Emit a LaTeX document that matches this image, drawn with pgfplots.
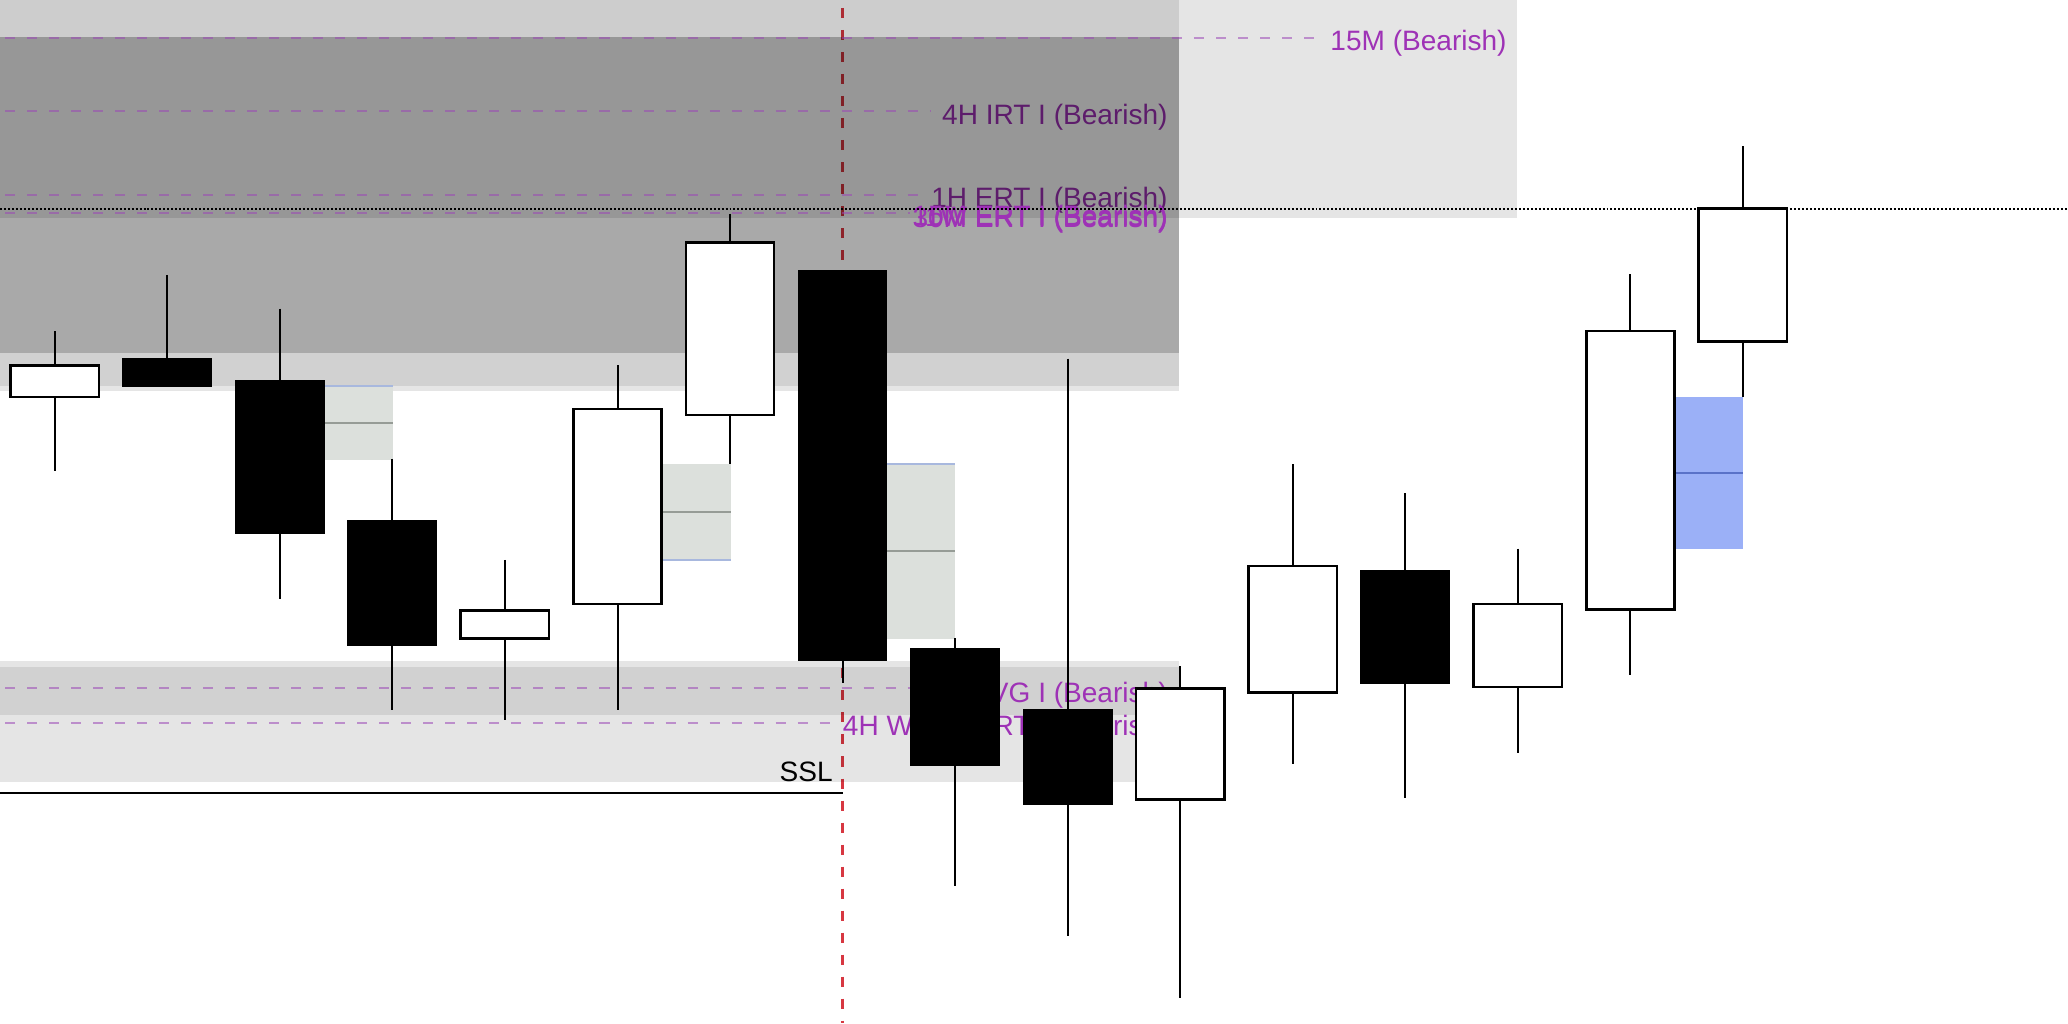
\documentclass[border=0pt]{standalone}
\usepackage{fontspec}
\setmainfont{Liberation Sans}
\usepackage{pgfplots}
\pgfplotsset{compat=1.18}

\definecolor{lbl}{RGB}{158,50,182}
\definecolor{lvl}{RGB}{155,71,183}
\definecolor{vline}{RGB}{215,55,65}
\definecolor{fvgfill}{RGB}{220,224,220}
\definecolor{fvgmid}{RGB}{150,156,150}
\definecolor{fvgedge}{RGB}{168,184,222}
\definecolor{obfill}{RGB}{155,176,247}
\definecolor{obmid}{RGB}{90,114,200}

\tikzset{
  wick/.style={black, line width=0.43pt},
  bodyup/.style={draw=black, fill=white, line width=0.55pt},
  bodydown/.style={draw=black, fill=black, line width=0.3pt},
  level/.style={lvl, draw opacity=0.55, line width=0.45pt, dash pattern=on 2.16pt off 2.59pt, dash phase=3.67pt},
  lab/.style={font=\fontsize{6.05}{7}\selectfont, inner sep=0pt, text=lbl, anchor=east},
}

% rectangular zone: x1, x2, y1, y2, opacity
\newcommand{\zone}[5]{\addplot[draw=none, fill=black, fill opacity=#5] coordinates {(#1,#3) (#2,#3) (#2,#4) (#1,#4)} -- cycle;}
% candles: left, centre, right, open, high, low, close
\newcommand{\bull}[7]{%
  \addplot[wick] coordinates {(#2,#5) (#2,#6)};
  \addplot[bodyup] coordinates {(#1,#4) (#3,#4) (#3,#7) (#1,#7)} -- cycle;}
\newcommand{\bear}[7]{%
  \addplot[wick] coordinates {(#2,#5) (#2,#6)};
  \addplot[bodydown] coordinates {(#1,#4) (#3,#4) (#3,#7) (#1,#7)} -- cycle;}
% gap box: x1, x2, top, bottom, middle, edge
\newcommand{\gapbox}[6]{%
  \addplot[draw=none, fill=fvgfill] coordinates {(#1,#3) (#2,#3) (#2,#4) (#1,#4)} -- cycle;
  \addplot[fvgmid, line width=0.45pt] coordinates {(#1,#5) (#2,#5)};
  \addplot[fvgedge, line width=0.45pt] coordinates {(#1,#6) (#2,#6)};}

\begin{document}
\begin{tikzpicture}
\begin{axis}[
  width=156.8mm, height=77.6mm, scale only axis,
  xmin=0, xmax=1568, ymin=0, ymax=776, y dir=reverse,
  hide axis, clip=true,
]
% background
\addplot[draw=none, fill=white] coordinates {(0,0) (1568,0) (1568,776) (0,776)} -- cycle;

% session divider
\addplot[vline, line width=0.45pt, dash pattern=on 2.16pt off 2.59pt, dash phase=3.05pt] coordinates {(638.8,0) (638.8,776)};

% labels sitting beneath the zones
\node[lab] at (axis cs:886,89) {4H IRT I (Bearish)};
\node[lab] at (axis cs:886,152) {1H ERT I (Bearish)};

% supply zones
\zone{0}{1150}{0}{165.5}{0.10}
\zone{0}{894}{0}{296.8}{0.10}
\zone{0}{894}{28}{292.6}{0.087}
\zone{0}{894}{28}{267.4}{0.19}
% demand zones
\zone{0}{894}{500.8}{592.8}{0.10}
\zone{0}{894}{505.7}{542}{0.087}

% levels
\addplot[level] coordinates {(0,28.6) (996,28.6)};
\addplot[level] coordinates {(0,84) (705,84)};
\addplot[level] coordinates {(0,147.6) (697,147.6)};
\addplot[level] coordinates {(0,161.3) (690,161.3)};
\addplot[level] coordinates {(0,521.6) (705,521.6)};
\addplot[level] coordinates {(0,548.5) (636,548.5)};

\node[lab] at (axis cs:1143,33) {15M (Bearish)};
\node[lab] at (axis cs:886,165.2) {15M ERT I (Bearish)};
\node[lab] at (axis cs:886,166.8) {30M ERT I (Bearish)};
\node[lab] at (axis cs:886,166) {1W ERT I (Bearish)};
\node[lab] at (axis cs:886,527) {1H FVG I (Bearish)};
\node[lab] at (axis cs:886,552.3) {4H Weekly IRT I (Bearish)};

% last price
\addplot[black, line width=0.45pt, dash pattern=on 0.43pt off 0.43pt] coordinates {(0,158.6) (1568,158.6)};

% fair value gaps
\gapbox{246}{298}{293}{348.5}{320.5}{293}
\gapbox{502}{554}{352}{424.5}{388}{424.5}
\gapbox{672.3}{724.2}{352}{484.5}{417.5}{352}
\addplot[draw=none, fill=obfill] coordinates {(1269.7,301) (1321.5,301) (1321.5,416.4) (1269.7,416.4)} -- cycle;
\addplot[obmid, line width=0.45pt] coordinates {(1269.7,358.4) (1321.5,358.4)};

% candles
\bull{8}{41.5}{75}{301}{251}{357}{277}
\bear{93.3}{126.8}{160.3}{272}{208.5}{293}{293}
\bear{178.7}{212.2}{245.7}{289}{234}{454}{404}
\bear{264}{297.5}{331}{395}{348}{538}{489}
\bull{349.3}{382.8}{416.3}{484}{424.5}{546}{463}
\bull{434.7}{468.2}{501.7}{458}{277}{538}{310}
\bull{520}{553.5}{587}{314.5}{162}{352}{184}
\bear{605.3}{638.8}{672.3}{205}{205}{517.5}{501}
\bear{690.7}{724.2}{757.7}{492}{484}{672}{580}
\bear{776}{809.5}{843}{538}{272}{710}{610}
\bull{861.3}{894.8}{928.3}{606}{505}{757}{522}
\bull{946.7}{980.2}{1013.7}{525}{352}{579}{429}
\bear{1032}{1065.5}{1099}{433}{374}{605}{518}
\bull{1117.3}{1150.8}{1184.3}{521}{416}{571}{458}
\bull{1202.7}{1236.2}{1269.7}{462}{208}{512}{251}
\bull{1288}{1321.5}{1355}{259}{111}{301}{158}

% sell-side liquidity
\addplot[black, line width=0.5pt] coordinates {(0,601) (638.8,601)};
\node[lab, text=black] at (axis cs:632,585) {SSL};
\end{axis}
\end{tikzpicture}
\end{document}
